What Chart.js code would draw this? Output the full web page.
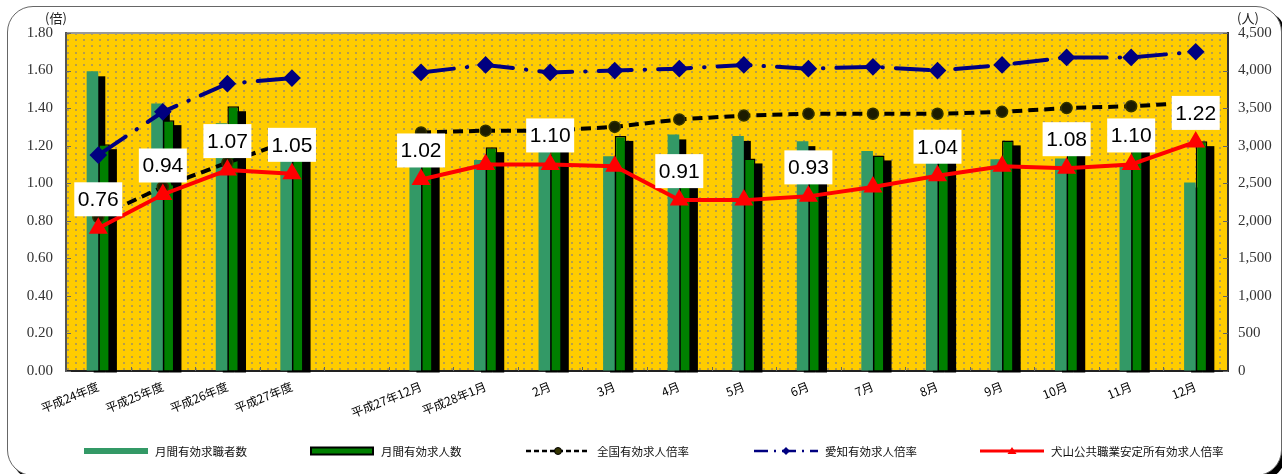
<!DOCTYPE html>
<html lang="ja">
<head>
<meta charset="utf-8">
<title>有効求人倍率の推移</title>
<script src="https://cdn.jsdelivr.net/npm/chart.js@4.4.1/dist/chart.umd.min.js"></script>
<style>
  html, body { margin: 0; padding: 0; background: #fff; }
  #wrap { position: relative; width: 1282px; height: 474px; overflow: hidden; font-family: 'Noto Sans CJK JP', sans-serif; }
  #frame { position: absolute; left: 7px; top: 6px; width: 1273px; height: 468px; border: 1px solid #666;
           border-radius: 26px; box-shadow: 4px 4px 0 #000; background: #fff; }
  #chart { position: absolute; left: 0; top: 0; }
  .unit { position: absolute; top: 8px; font-size: 13px; color: #222; font-family: 'Noto Sans CJK JP', serif; }
  .item { position: absolute; top: 443px; height: 16px; display: flex; align-items: center; font-size: 11.5px; color: #111; white-space: nowrap; }
  .item svg { margin-right: 7px; }
</style>
</head>
<body>
<div id="wrap">
  <div id="frame"></div>
  <canvas id="chart" width="1282" height="474"></canvas>
  <div class="unit" style="left:45px">(倍)</div>
  <div class="unit" style="left:1237px">(人)</div>
  <div id="legend"></div>
</div>
<script>
// categories (index 4 is the empty gap between fiscal years and months)
const categories = ['平成24年度', '平成25年度', '平成26年度', '平成27年度', '',
    '平成27年12月', '平成28年1月', '2月', '3月', '4月', '5月', '6月',
    '7月', '8月', '9月', '10月', '11月', '12月'];

// people (right axis)
const jobSeekers = [3990, 3560, 3300, 3050, null, 2900, 2810, 2940, 2860, 3150, 3130, 3060, 2930, 2850, 2820, 2830, 2760, 2510];
const jobOffers  = [3020, 3340, 3525, 3200, null, 2960, 2980, 3230, 3130, 2870, 2830, 2850, 2870, 2960, 3070, 3060, 3030, 3060];

// ratios (left axis)
const nationalRatio = [0.82, 0.98, 1.11, 1.23, null, 1.27, 1.28, 1.28, 1.30, 1.34, 1.36, 1.37, 1.37, 1.37, 1.38, 1.40, 1.41, 1.43];
const aichiRatio    = [1.15, 1.38, 1.53, 1.56, null, 1.59, 1.63, 1.59, 1.60, 1.61, 1.63, 1.61, 1.62, 1.60, 1.63, 1.67, 1.67, 1.70];
const inuyamaRatio  = [0.76, 0.94, 1.07, 1.05, null, 1.02, 1.10, 1.10, 1.09, 0.91, 0.91, 0.93, 0.98, 1.04, 1.09, 1.08, 1.10, 1.22];

// which points of the 犬山 series get a value box
const labelledPoints = [0, 1, 2, 3, 5, 7, 9, 11, 13, 15, 16, 17];

const leftTicks = { min: 0, max: 1.8, step: 0.2 };
const rightTicks = { min: 0, max: 4500, step: 500 };

const legendItems = [
    { name: '月間有効求職者数', left: 84, kind: 'seekers' },
    { name: '月間有効求人数', left: 310, kind: 'offers' },
    { name: '全国有効求人倍率', left: 526, kind: 'national' },
    { name: '愛知有効求人倍率', left: 754, kind: 'aichi' },
    { name: '犬山公共職業安定所有効求人倍率', left: 980, kind: 'inuyama' }
];

// gold plot background with grey dots
const dots = document.createElement('canvas');
dots.width = 8; dots.height = 19;
(function () {
    const g = dots.getContext('2d');
    g.fillStyle = '#FFCC00';
    g.fillRect(0, 0, 8, 19);
    g.fillStyle = 'rgba(120,120,140,0.55)';
    [1, 7, 14].forEach(y => g.fillRect(3, y, 2, 2));
})();

const plotBackground = {
    id: 'plotBackground',
    beforeDraw(chart) {
        const { ctx, chartArea: a } = chart;
        ctx.save();
        ctx.fillStyle = ctx.createPattern(dots, 'repeat');
        ctx.fillRect(a.left, a.top, a.right - a.left, a.bottom - a.top);
        ctx.strokeStyle = '#999';
        ctx.lineWidth = 2;
        ctx.beginPath();
        ctx.moveTo(a.left, a.top);
        ctx.lineTo(a.right, a.top);
        ctx.stroke();
        ctx.restore();
    }
};

// short inward tick marks, then a black drop shadow behind every bar
const barShadows = {
    id: 'barShadows',
    beforeDatasetsDraw(chart) {
        const { ctx, chartArea: a, scales } = chart;
        ctx.save();
        ctx.strokeStyle = '#666';
        ctx.lineWidth = 1;
        ctx.beginPath();
        scales.y.ticks.forEach((t, i) => {
            const py = Math.round(scales.y.getPixelForTick(i)) + 0.5;
            ctx.moveTo(a.left, py); ctx.lineTo(a.left + 5, py);
        });
        scales.y1.ticks.forEach((t, i) => {
            const py = Math.round(scales.y1.getPixelForTick(i)) + 0.5;
            ctx.moveTo(a.right, py); ctx.lineTo(a.right - 5, py);
        });
        const step = (a.right - a.left) / categories.length;
        for (let i = 1; i < categories.length; i++) {
            const px = Math.round(a.left + step * i) + 0.5;
            ctx.moveTo(px, a.bottom); ctx.lineTo(px, a.bottom - 4);
        }
        ctx.stroke();

        ctx.fillStyle = '#000';
        [jobSeekers, jobOffers].forEach((values, di) => {
            chart.getDatasetMeta(di).data.forEach((bar, i) => {
                if (values[i] == null) return;
                const w = bar.width;
                ctx.fillRect(bar.x - w / 2 + 7, bar.y + 5, w, bar.base - bar.y - 3);
            });
        });
        ctx.restore();
    }
};

// white boxes with the 犬山 values
const valueBoxes = {
    id: 'valueBoxes',
    afterDatasetsDraw(chart) {
        const { ctx } = chart;
        const meta = chart.getDatasetMeta(4);
        ctx.save();
        ctx.font = '21px "Liberation Sans", Arial, sans-serif';
        ctx.textAlign = 'center';
        ctx.textBaseline = 'middle';
        labelledPoints.forEach(i => {
            const p = meta.data[i];
            const w = 48, h = 34;
            const top = p.y - 12 - h;
            ctx.fillStyle = '#fff';
            ctx.fillRect(p.x - w / 2, top, w, h);
            ctx.fillStyle = '#000';
            ctx.fillText(inuyamaRatio[i].toFixed(2), p.x, top + h / 2 + 1);
        });
        ctx.restore();
    }
};

const tickFont = { family: '"Liberation Serif", "DejaVu Serif", serif', size: 15 };

const ctx = document.getElementById('chart').getContext('2d');
const chart = new Chart(ctx, {
    type: 'bar',
    data: {
        labels: categories,
        datasets: [
            {
                type: 'bar',
                label: '月間有効求職者数',
                data: jobSeekers,
                yAxisID: 'y1',
                backgroundColor: '#339966',
                borderWidth: 0,
                categoryPercentage: 0.36,
                barPercentage: 1,
                order: 3
            },
            {
                type: 'bar',
                label: '月間有効求人数',
                data: jobOffers,
                yAxisID: 'y1',
                backgroundColor: '#008000',
                borderColor: '#000',
                borderWidth: 1.5,
                categoryPercentage: 0.36,
                barPercentage: 1,
                order: 4
            },
            {
                type: 'line',
                label: '全国有効求人倍率',
                data: nationalRatio,
                yAxisID: 'y',
                borderColor: '#000',
                borderWidth: 4,
                borderDash: [10, 6],
                pointStyle: 'circle',
                pointRadius: 5.5,
                pointBackgroundColor: '#1c1c00',
                pointBorderColor: '#333300',
                pointBorderWidth: 1.5,
                tension: 0,
                spanGaps: false,
                order: 2
            },
            {
                type: 'line',
                label: '愛知有効求人倍率',
                data: aichiRatio,
                yAxisID: 'y',
                borderColor: '#000080',
                borderWidth: 4,
                borderDash: [33, 13, 0.5, 13],
                borderCapStyle: 'round',
                pointStyle: 'rectRot',
                pointRadius: 6,
                pointBackgroundColor: '#000080',
                pointBorderColor: '#000080',
                tension: 0,
                spanGaps: false,
                order: 1
            },
            {
                type: 'line',
                label: '犬山公共職業安定所有効求人倍率',
                data: inuyamaRatio,
                yAxisID: 'y',
                borderColor: '#FF0000',
                borderWidth: 4,
                pointStyle: 'triangle',
                pointRadius: 7,
                pointBackgroundColor: '#FF0000',
                pointBorderColor: '#FF0000',
                tension: 0,
                spanGaps: false,
                order: 0
            }
        ]
    },
    options: {
        responsive: false,
        animation: false,
        layout: { padding: { top: 33, left: 0, right: 0, bottom: 0 } },
        plugins: {
            legend: { display: false },
            tooltip: { enabled: false }
        },
        scales: {
            x: {
                offset: true,
                grid: { drawOnChartArea: false, drawTicks: false },
                border: { color: '#222', width: 2 },
                ticks: {
                    autoSkip: false,
                    minRotation: 22,
                    maxRotation: 22,
                    padding: 8,
                    color: '#000',
                    font: { family: '"Noto Sans CJK JP", sans-serif', size: 12 }
                },
                afterFit: scale => { scale.height = 103; }
            },
            y: {
                position: 'left',
                min: leftTicks.min,
                max: leftTicks.max,
                grid: { drawOnChartArea: false, drawTicks: false },
                border: { color: '#555', width: 2 },
                ticks: {
                    stepSize: leftTicks.step,
                    padding: 13,
                    color: '#333',
                    font: tickFont,
                    callback: value => value.toFixed(2)
                },
                afterFit: scale => { scale.width = 66; }
            },
            y1: {
                position: 'right',
                min: rightTicks.min,
                max: rightTicks.max,
                grid: { drawOnChartArea: false, drawTicks: false },
                border: { color: '#333', width: 2 },
                ticks: {
                    stepSize: rightTicks.step,
                    padding: 10,
                    color: '#333',
                    font: tickFont,
                    callback: value => value.toLocaleString('en-US')
                },
                afterFit: scale => { scale.width = 54; }
            }
        }
    },
    plugins: [plotBackground, barShadows, valueBoxes]
});

// legend
const symbols = {
    seekers: '<rect x="0" y="3" width="64" height="6" fill="#339966"/>',
    offers: '<rect x="1" y="2.5" width="62" height="7" fill="#008000" stroke="#000" stroke-width="2"/>',
    national: '<line x1="0" y1="6" x2="64" y2="6" stroke="#000" stroke-width="2.5" stroke-dasharray="5 3"/>' +
              '<circle cx="32" cy="6" r="3.5" fill="#333300" stroke="#000" stroke-width="1"/>',
    aichi: '<line x1="0" y1="6" x2="64" y2="6" stroke="#000080" stroke-width="2.5" stroke-dasharray="14 6 2 6"/>' +
           '<polygon points="32,2 36,6 32,10 28,6" fill="#000080"/>',
    inuyama: '<line x1="0" y1="6" x2="64" y2="6" stroke="#FF0000" stroke-width="3"/>' +
             '<polygon points="32,2 36.5,9 27.5,9" fill="#FF0000"/>'
};
const legend = document.getElementById('legend');
legendItems.forEach(item => {
    const div = document.createElement('div');
    div.className = 'item';
    div.style.left = item.left + 'px';
    div.innerHTML = '<svg width="64" height="12">' + symbols[item.kind] + '</svg><span>' + item.name + '</span>';
    legend.appendChild(div);
});
</script>
</body>
</html>
